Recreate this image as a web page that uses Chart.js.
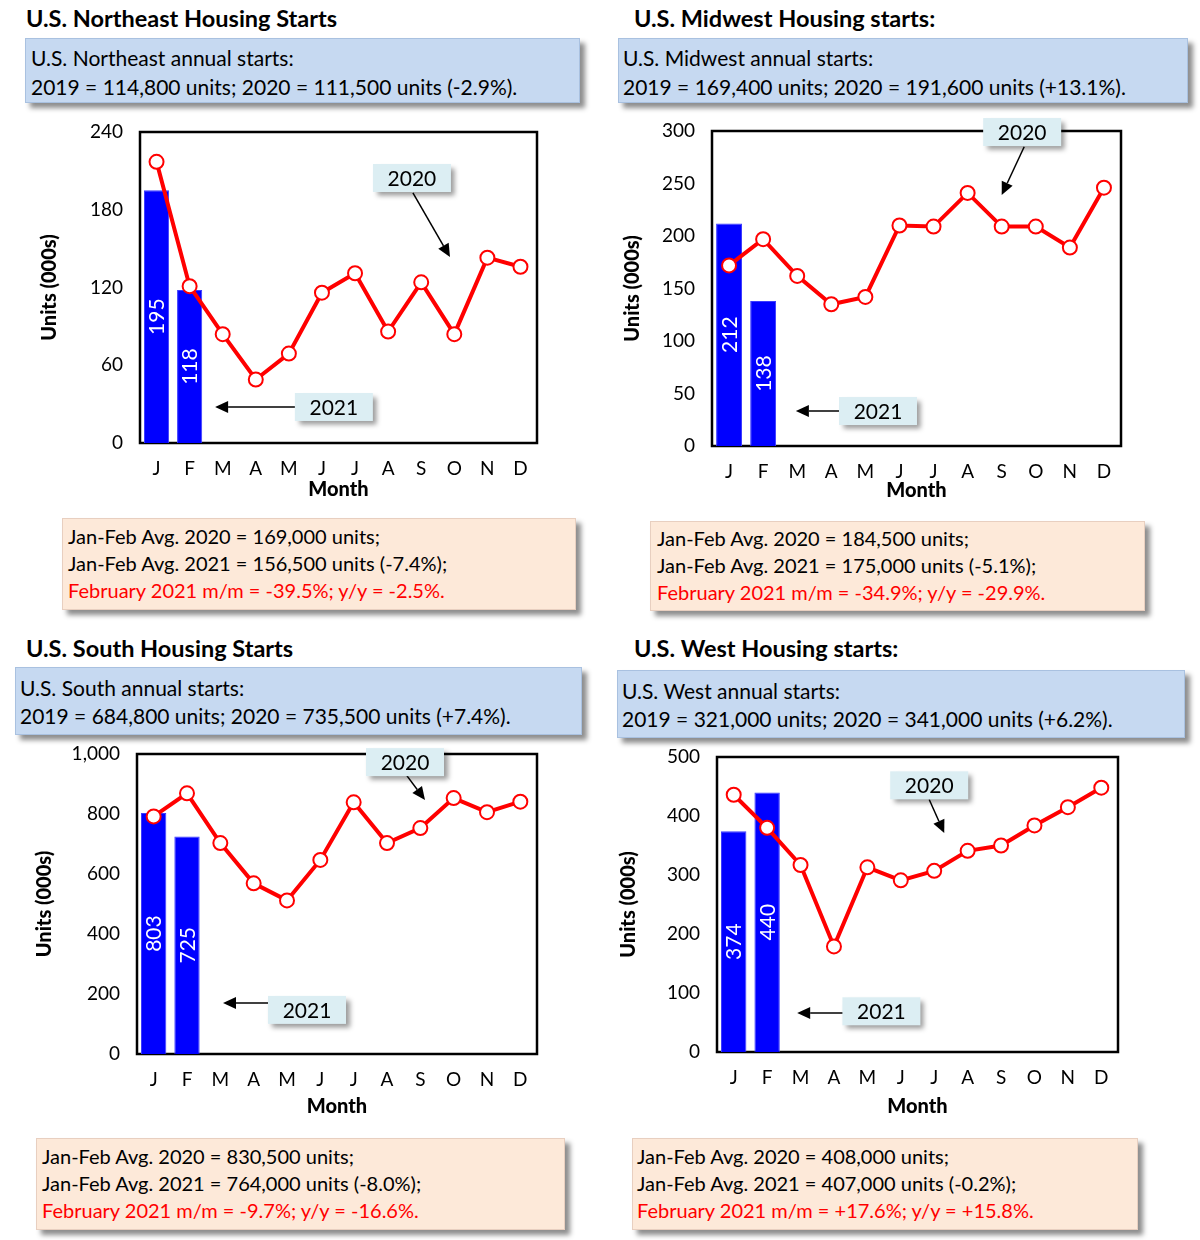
<!DOCTYPE html>
<html>
<head>
<meta charset="utf-8">
<script src="https://cdn.jsdelivr.net/npm/chart.js@4.4.0/dist/chart.umd.min.js"></script>
<style>
body { margin: 0; background: #fff; }
#page { position: relative; width: 1200px; height: 1240px; overflow: hidden; font-family: Lato, "Noto Sans", sans-serif; color: #000; }
.title { position: absolute; font-weight: bold; font-size: 23.5px; line-height: 26px; white-space: nowrap; }
.box { position: absolute; box-sizing: border-box; box-shadow: 5px 5px 5px rgba(0,0,0,0.45); white-space: nowrap; }
.blue { background: #C6D9F1; border: 1px solid #A9C1E0; }
.peach { background: #FDE9D9; border: 1px solid #E8CFC0; }
.ln { position: absolute; line-height: 24px; }
.red { color: #FF0000; }
canvas { position: absolute; }
</style>
</head>
<body>
<div id="page"></div>
<script>
// months on the x axis
const months = ["J", "F", "M", "A", "M", "J", "J", "A", "S", "O", "N", "D"];

// housing starts, thousands of units (SAAR)
const neStarts2020 = [217, 121, 84, 49, 69, 116, 131, 86, 124, 84, 143, 136];
const neStarts2021 = [195, 118];
const mwStarts2020 = [172, 197, 162, 135, 142, 210, 209, 241, 209, 209, 189, 246];
const mwStarts2021 = [212, 138];
const soStarts2020 = [792, 869, 703, 569, 512, 647, 839, 703, 753, 853, 806, 841];
const soStarts2021 = [803, 725];
const weStarts2020 = [436, 380, 317, 179, 313, 291, 307, 341, 350, 384, 415, 448];
const weStarts2021 = [374, 440];

// y axis tick values
const neTicks = [0, 60, 120, 180, 240];
const mwTicks = [0, 50, 100, 150, 200, 250, 300];
const soTicks = [0, 200, 400, 600, 800, 1000];
const weTicks = [0, 100, 200, 300, 400, 500];

// texts
const neTitle = "U.S. Northeast Housing Starts";
const mwTitle = "U.S. Midwest Housing starts:";
const soTitle = "U.S. South Housing Starts";
const weTitle = "U.S. West Housing starts:";
const neAnnual = ["U.S. Northeast annual starts:", "2019 = 114,800 units; 2020 = 111,500 units (-2.9%)."];
const mwAnnual = ["U.S. Midwest annual starts:", "2019 = 169,400 units; 2020 = 191,600 units (+13.1%)."];
const soAnnual = ["U.S. South annual starts:", "2019 = 684,800 units; 2020 = 735,500 units (+7.4%)."];
const weAnnual = ["U.S. West annual starts:", "2019 = 321,000 units; 2020 = 341,000 units (+6.2%)."];
const neJanFeb = ["Jan-Feb Avg. 2020 = 169,000 units;", "Jan-Feb Avg. 2021 = 156,500 units (-7.4%);", "February 2021 m/m = -39.5%; y/y = -2.5%."];
const mwJanFeb = ["Jan-Feb Avg. 2020 = 184,500 units;", "Jan-Feb Avg. 2021 = 175,000 units (-5.1%);", "February 2021 m/m = -34.9%; y/y = -29.9%."];
const soJanFeb = ["Jan-Feb Avg. 2020 = 830,500 units;", "Jan-Feb Avg. 2021 = 764,000 units (-8.0%);", "February 2021 m/m = -9.7%; y/y = -16.6%."];
const weJanFeb = ["Jan-Feb Avg. 2020 = 408,000 units;", "Jan-Feb Avg. 2021 = 407,000 units (-0.2%);", "February 2021 m/m = +17.6%; y/y = +15.8%."];

const page = document.getElementById("page");
const chartFont = "Lato";

// panel layouts (page pixels)
const panels = [
    {
        title: neTitle, titlePos: [26, 5], annual: neAnnual, janFeb: neJanFeb,
        blue: [25, 38, 555, 65, 31, [46, 75]],
        peach: [62, 518, 514, 92, 68, [524, 551, 578]],
        plot: { l: 140, t: 132, r: 537, b: 443 }, yTitleX: 50, monthY: 490,
        s2020: neStarts2020, s2021: neStarts2021, ticks: neTicks,
        notes: [
            { text: "2020", at: [7.72, 204.5], from: [7.75, 193], to: [8.87, 143.5] },
            { text: "2021", at: [5.36, 27.8], from: [4.19, 27.8], to: [1.77, 27.8] }
        ]
    },
    {
        title: mwTitle, titlePos: [634, 5], annual: mwAnnual, janFeb: mwJanFeb,
        blue: [618, 38, 570, 65, 623, [46, 75]],
        peach: [650, 521, 495, 90, 657, [526, 553, 580]],
        plot: { l: 712, t: 131, r: 1121, b: 446 }, yTitleX: 633, monthY: 491,
        s2020: mwStarts2020, s2021: mwStarts2021, ticks: mwTicks,
        notes: [
            { text: "2020", at: [8.6, 299], from: [8.66, 285], to: [8.0, 239] },
            { text: "2021", at: [4.37, 33.3], from: [3.29, 33.3], to: [1.96, 33.3] }
        ]
    },
    {
        title: soTitle, titlePos: [26, 635], annual: soAnnual, janFeb: soJanFeb,
        blue: [15, 667, 567, 68, 20, [676, 704]],
        peach: [36, 1138, 529, 92, 42, [1144, 1171, 1198]],
        plot: { l: 137, t: 754, r: 537, b: 1054 }, yTitleX: 45, monthY: 1107,
        s2020: soStarts2020, s2021: soStarts2021, ticks: soTicks,
        notes: [
            { text: "2020", at: [7.54, 973], from: [7.6, 927], to: [8.14, 847] },
            { text: "2021", at: [4.6, 147], from: [3.49, 170], to: [2.08, 170] }
        ]
    },
    {
        title: weTitle, titlePos: [634, 635], annual: weAnnual, janFeb: weJanFeb,
        blue: [617, 670, 568, 68, 622, [679, 707]],
        peach: [632, 1138, 506, 92, 637, [1144, 1171, 1198]],
        plot: { l: 717, t: 757, r: 1118, b: 1052 }, yTitleX: 629, monthY: 1107,
        s2020: weStarts2020, s2021: weStarts2021, ticks: weTicks,
        notes: [
            { text: "2020", at: [5.85, 452], from: [5.85, 428], to: [6.3, 371] },
            { text: "2021", at: [4.42, 69], from: [3.28, 66], to: [1.9, 66] }
        ]
    }
];

function addDiv(cls, x, y, w, h) {
    const d = document.createElement("div");
    d.className = cls;
    d.style.left = x + "px";
    d.style.top = y + "px";
    if (w) d.style.width = w + "px";
    if (h) d.style.height = h + "px";
    page.appendChild(d);
    return d;
}

function addBox(cls, spec, lines, redLast, size) {
    const [x, y, w, h, tx, lineY] = spec;
    addDiv("box " + cls, x, y, w, h);
    lines.forEach((t, i) => {
        const l = addDiv("ln" + (redLast && i === lines.length - 1 ? " red" : ""), tx, lineY[i]);
        l.style.fontSize = size + "px";
        l.textContent = t;
    });
}

// draws the black frame around the plot
const framePlugin = {
    id: "frame",
    beforeDatasetsDraw(chart) {
        const a = chart.chartArea, ctx = chart.ctx;
        ctx.save();
        ctx.strokeStyle = "#000";
        ctx.lineWidth = 2.5;
        ctx.strokeRect(a.left, a.top, a.right - a.left, a.bottom - a.top);
        ctx.restore();
    }
};

// rotated white value labels inside the 2021 bars
const barLabelPlugin = {
    id: "barLabels",
    afterDatasetsDraw(chart) {
        const ctx = chart.ctx;
        chart.data.datasets.forEach((ds, di) => {
            if (ds.type !== "bar") return;
            chart.getDatasetMeta(di).data.forEach((el, i) => {
                if (ds.data[i] == null) return;
                ctx.save();
                ctx.translate(el.x, (el.y + el.base) / 2);
                ctx.rotate(-Math.PI / 2);
                ctx.fillStyle = "#fff";
                ctx.font = "21px " + chartFont;
                ctx.textAlign = "center";
                ctx.textBaseline = "middle";
                ctx.fillText(String(ds.data[i]), 0, 1);
                ctx.restore();
            });
        });
    }
};

// "2020" / "2021" call-outs with arrows
const notePlugin = {
    id: "notes",
    afterDraw(chart, args, opts) {
        const ctx = chart.ctx, xs = chart.scales.x, ys = chart.scales.y;
        const px = p => [xs.getPixelForValue(p[0]), ys.getPixelForValue(p[1])];
        (opts.items || []).forEach(n => {
            const [fx, fy] = px(n.from), [tx, ty] = px(n.to);
            ctx.save();
            ctx.strokeStyle = "#000";
            ctx.fillStyle = "#000";
            ctx.lineWidth = 1.5;
            const ang = Math.atan2(ty - fy, tx - fx);
            const hl = 13, hw = 6;
            const bx = tx - hl * Math.cos(ang), by = ty - hl * Math.sin(ang);
            ctx.beginPath();
            ctx.moveTo(fx, fy);
            ctx.lineTo(bx, by);
            ctx.stroke();
            ctx.beginPath();
            ctx.moveTo(tx, ty);
            ctx.lineTo(bx + hw * Math.sin(ang), by - hw * Math.cos(ang));
            ctx.lineTo(bx - hw * Math.sin(ang), by + hw * Math.cos(ang));
            ctx.closePath();
            ctx.fill();
            const [cx, cy] = px(n.at);
            const w = 78, h = 28;
            ctx.shadowColor = "rgba(0,0,0,0.4)";
            ctx.shadowBlur = 5;
            ctx.shadowOffsetX = 4;
            ctx.shadowOffsetY = 4;
            ctx.fillStyle = "#DCEEF3";
            ctx.fillRect(cx - w / 2, cy - h / 2, w, h);
            ctx.shadowColor = "transparent";
            ctx.fillStyle = "#000";
            ctx.font = "21px " + chartFont;
            ctx.textAlign = "center";
            ctx.textBaseline = "middle";
            ctx.fillText(n.text, cx, cy + 1);
            ctx.restore();
        });
    }
};

panels.forEach(p => {
    const t = addDiv("title", p.titlePos[0], p.titlePos[1]);
    t.textContent = p.title;
    addBox("blue", p.blue, p.annual, false, 21);
    addBox("peach", p.peach, p.janFeb, true, 20);

    // canvas placed so that the plot area lands on p.plot
    // (top padding must exceed the y scale's own label padding, ~29px)
    const tsize = 20;
    const half = tsize * 1.2 / 2;
    const pad = { left: 4, top: 34, right: 16, bottom: 4 };
    const cLeft = Math.round(p.yTitleX - pad.left - half);
    const cTop = p.plot.t - pad.top;
    const yw = p.plot.l - cLeft - pad.left;
    const xh = p.monthY - p.plot.b + half;
    const cw = p.plot.r - cLeft + pad.right;
    const ch = Math.round(pad.top + (p.plot.b - p.plot.t) + xh + pad.bottom);

    const cv = document.createElement("canvas");
    cv.width = cw;
    cv.height = ch;
    cv.style.left = cLeft + "px";
    cv.style.top = cTop + "px";
    cv.style.width = cw + "px";
    cv.style.height = ch + "px";
    page.appendChild(cv);

    const barData = months.map((m, i) => p.s2021[i] === undefined ? null : p.s2021[i]);
    const yMax = p.ticks[p.ticks.length - 1];

    new Chart(cv.getContext("2d"), {
        type: "bar",
        data: {
            labels: months,
            datasets: [
                {
                    type: "line", label: "2020", data: p.s2020, order: 0,
                    borderColor: "#FF0000", borderWidth: 4,
                    pointRadius: 7, pointBorderWidth: 2,
                    pointBackgroundColor: "#fff", pointBorderColor: "#FF0000"
                },
                {
                    type: "bar", label: "2021", data: barData, order: 1,
                    backgroundColor: "#0000FF", borderColor: "#3B3BFF", borderWidth: 1,
                    categoryPercentage: 1, barPercentage: 0.76
                }
            ]
        },
        options: {
            responsive: false,
            animation: false,
            devicePixelRatio: 1,
            layout: { padding: pad },
            plugins: {
                legend: { display: false },
                tooltip: { enabled: false },
                notes: { items: p.notes }
            },
            scales: {
                x: {
                    offset: true,
                    grid: { display: false, drawTicks: false },
                    border: { display: false },
                    ticks: { color: "#000", padding: 14, font: { family: chartFont, size: 19 } },
                    title: { display: true, text: "Month", color: "#000", padding: 0, font: { family: chartFont, size: tsize, weight: "900" } },
                    afterFit: s => { s.height = xh; }
                },
                y: {
                    min: 0, max: yMax,
                    afterBuildTicks: s => { s.ticks = p.ticks.map(v => ({ value: v })); },
                    grid: { display: false, drawTicks: false },
                    border: { display: false },
                    ticks: {
                        color: "#000", padding: 17, font: { family: chartFont, size: 19 },
                        callback: v => v.toLocaleString("en-US")
                    },
                    title: { display: true, text: "Units (000s)", color: "#000", padding: 0, font: { family: chartFont, size: tsize, weight: "900" } },
                    afterFit: s => { s.width = yw; }
                }
            }
        },
        plugins: [framePlugin, barLabelPlugin, notePlugin]
    });
});
</script>
</body>
</html>
